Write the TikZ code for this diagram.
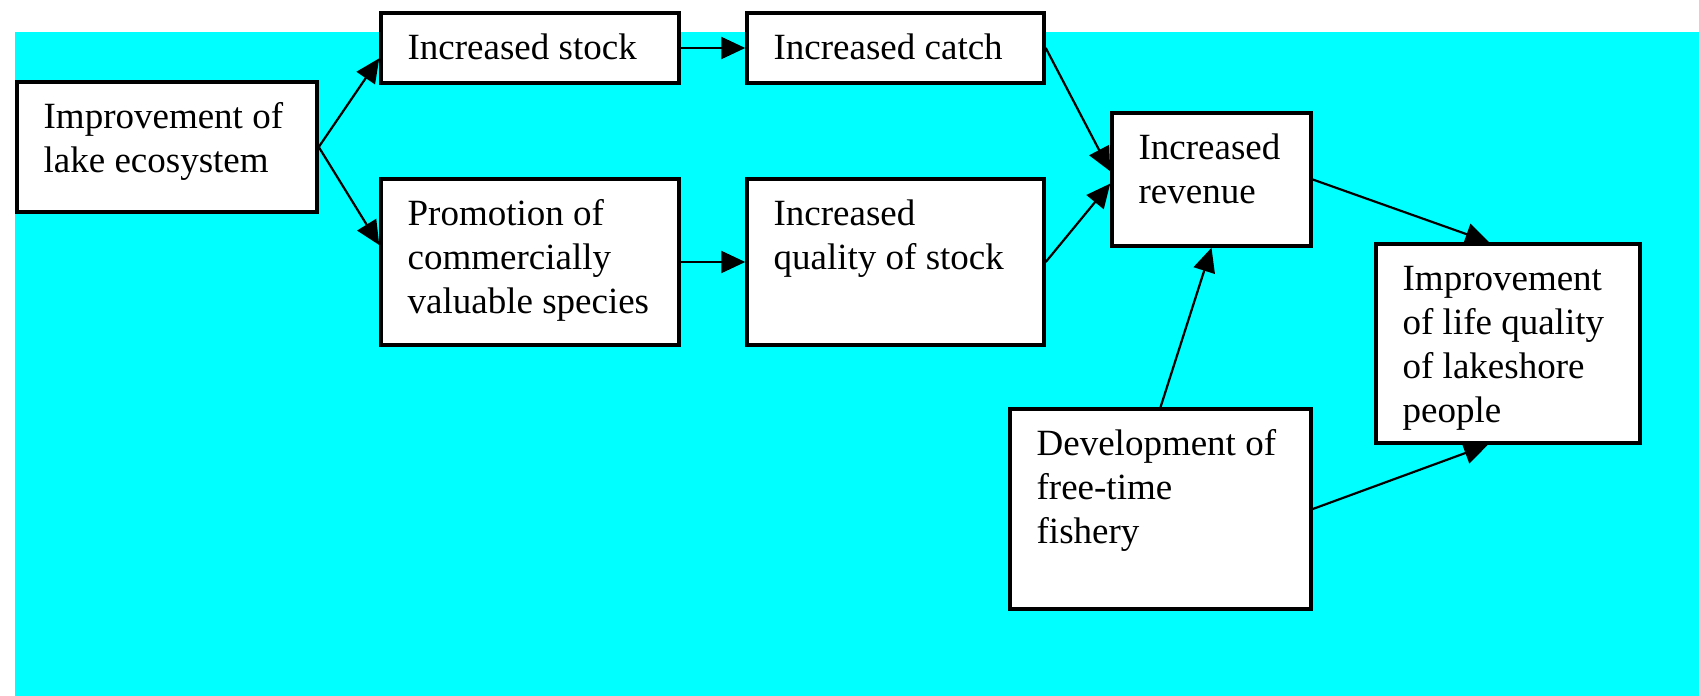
\documentclass[tikz,border=0pt]{standalone}
\usepackage{fontspec}
\setmainfont{Liberation Serif}
\usetikzlibrary{arrows.meta,fit,calc}
\definecolor{bgcyan}{RGB}{0,255,255}
\begin{document}
\begin{tikzpicture}[x=0.5pt,y=-0.5pt,
  box/.style={draw=black, line width=1.75pt, fill=white, inner sep=0pt},
  lbl/.style={anchor=north west, inner sep=0pt, align=left, font=\fontsize{18.5}{22}\selectfont},
  link/.style={line width=1.1pt, -{Triangle[length=12pt,width=11pt]}}]
\useasboundingbox (0,0) rectangle (1699,696);
\fill[bgcyan] (15,32) rectangle (1699,696);
% boxes
\node[box, fit={(17,82)(317,212)}] (b1) {};
\node[box, fit={(381,13)(679,83)}] (b2) {};
\node[box, fit={(747,13)(1044,83)}] (b3) {};
\node[box, fit={(381,179)(679,345)}] (b4) {};
\node[box, fit={(747,179)(1044,345)}] (b5) {};
\node[box, fit={(1112,113)(1311,246)}] (b6) {};
\node[box, fit={(1376,244)(1640,443)}] (b7) {};
\node[box, fit={(1010,409)(1311,609)}] (b8) {};
% labels
\node[lbl] (t1) at ($(b1.north west)+(28,17)$) {\strut Improvement of\\lake ecosystem};
\node[lbl] (t2) at ($(b2.north west)+(28,17)$) {\strut Increased stock};
\node[lbl] (t3) at ($(b3.north west)+(28,17)$) {\strut Increased catch};
\node[lbl] (t4) at ($(b4.north west)+(28,17)$) {\strut Promotion of\\commercially\\valuable species};
\node[lbl] (t5) at ($(b5.north west)+(28,17)$) {\strut Increased\\quality of stock};
\node[lbl] (t6) at ($(b6.north west)+(28,17)$) {\strut Increased\\revenue};
\node[lbl] (t7) at ($(b7.north west)+(28,17)$) {\strut Improvement\\of life quality\\of lakeshore\\people};
\node[lbl] (t8) at ($(b8.north west)+(28,17)$) {\strut Development of\\free-time\\fishery};
% connectors
\draw[link] (b1.east) -- ($(b2.south west)!0.36!(b2.north west)$);
\draw[link] (b1.east) -- ($(b4.south west)!0.6!(b4.north west)$);
\draw[link] (b2.east) -- (b3.west);
\draw[link] (b4.east) -- (b5.west);
\draw[link] (b3.east) -- ($(b6.south west)!0.56!(b6.north west)$);
\draw[link] (b5.east) -- ($(b6.south west)!0.47!(b6.north west)$);
\draw[link] (b6.east) -- ($(b7.north west)!0.43!(b7.north east)$);
\draw[link] (b8.north) -- (b6.south);
\draw[link] (b8.east) -- ($(b7.south west)!0.425!(b7.south east)$);
\end{tikzpicture}
\end{document}
